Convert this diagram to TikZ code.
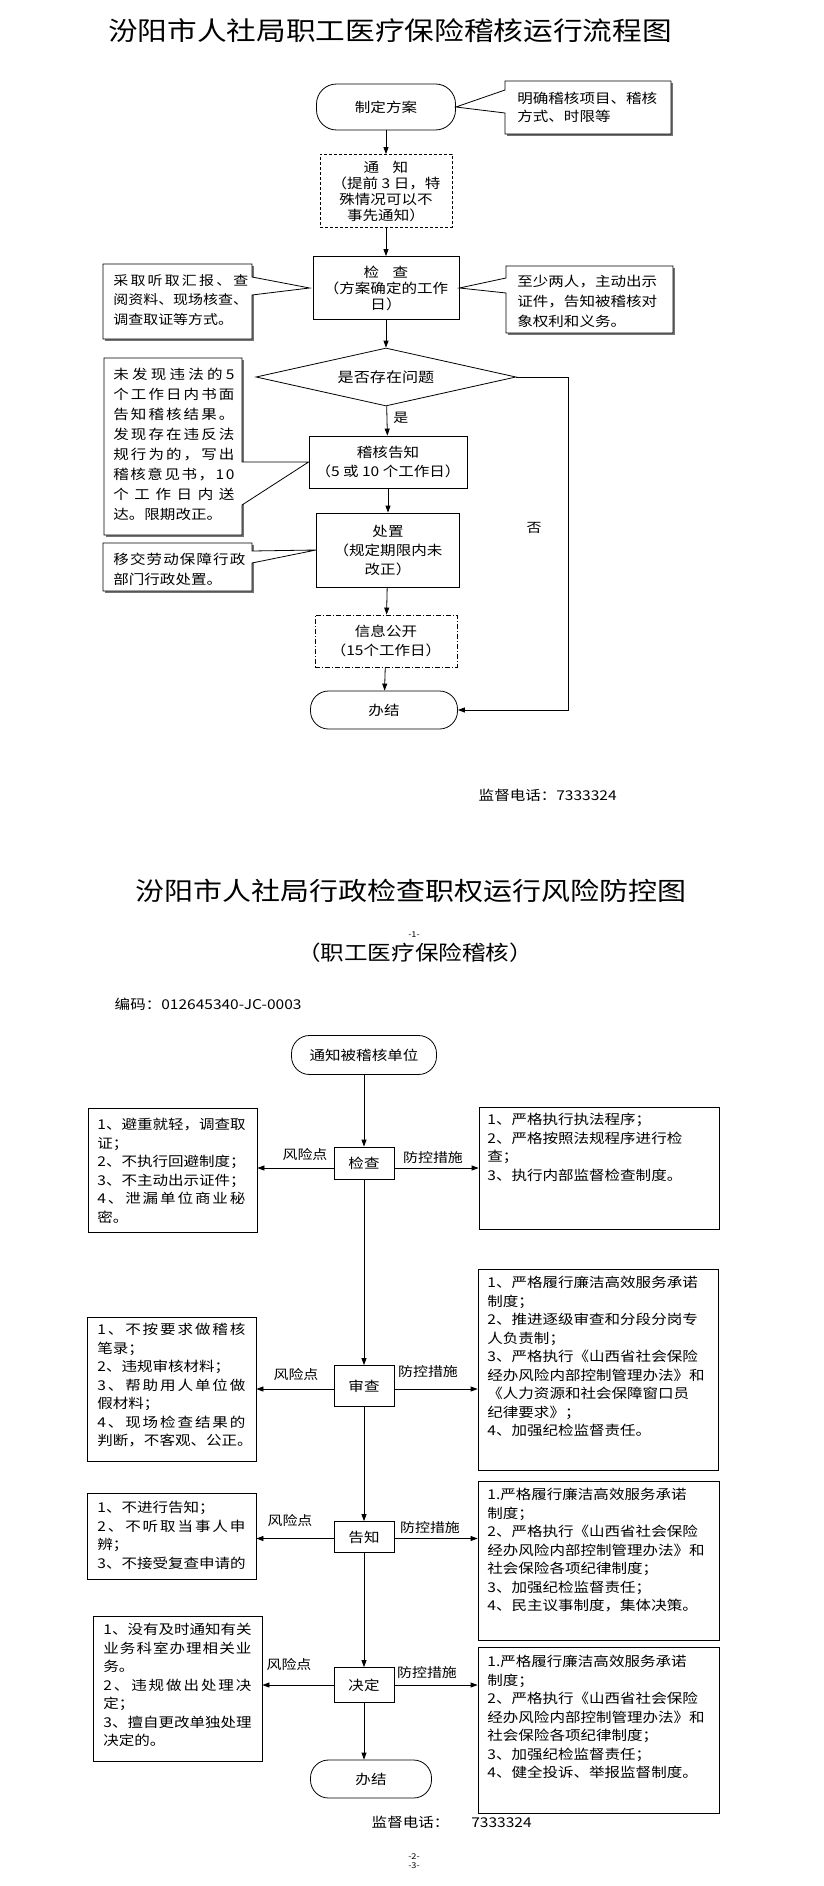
\documentclass[tikz,border=0pt]{standalone}
\usepackage{fontspec}
\setmainfont{Noto Sans CJK SC}[FakeStretch=1.15]
\usetikzlibrary{arrows.meta,calc,shapes.geometric}
\newcommand\fs[2]{\fontsize{#1pt}{#2pt}\selectfont}
\def\sprdaux#1#2{#1\ifx\relax#2\else\hfil\expandafter\sprdaux\expandafter#2\fi}
\newcommand\spreadline[1]{\makebox[\hsize][s]{\sprdaux#1\relax}}
\tikzset{
  every node/.style={font=\fs{13.5}{16}},
  proc/.style={draw, rectangle, align=center, inner sep=0pt},
  term/.style={draw, rectangle, align=center, inner sep=0pt},
  boxt/.style={anchor=north west, inner sep=0pt, align=left, text width=#1},
  lab/.style={font=\fs{13}{15}, inner sep=1pt},
  arr/.style={-{Triangle[length=7pt,width=5pt]}},
  shade/.style={fill=black!55},
  frame/.style={draw, inner sep=0pt},
}
\begin{document}
\begin{tikzpicture}[x=1pt,y=-1pt,line width=0.8pt]
\fill[white] (0,0) rectangle (823,1886);
\useasboundingbox (0,0) rectangle (823,1886);

% ================= Part 1 =================
\node[font=\fs{25.8}{28}] (t1) at (390,31) {汾阳市人社局职工医疗保险稽核运行流程图};

\node[term, minimum width=139pt, minimum height=46pt, rounded corners=20pt] (A) at (386,107) {制定方案};
\node[proc, dash pattern=on 3pt off 2pt, minimum width=132pt, minimum height=73pt] (B) at (386,191) {通\quad 知\\（提前 3 日，特\\殊情况可以不\\事先通知）};
\node[proc, minimum width=146pt, minimum height=63pt] (C) at (386,288) {检\quad 查\\（方案确定的工作\\日）};
\node[diamond, aspect=4.5, draw, minimum width=260pt, minimum height=58pt, inner sep=0pt, font=\fs{14}{16}] (D) at (386,377) {是否存在问题};
\node[proc, minimum width=158pt, minimum height=52pt, font=\fs{13.5}{19}] (E) at (388,462) {稽核告知\\（5 或 10 个工作日）};
\node[proc, minimum width=143pt, minimum height=74pt, font=\fs{13.5}{19}] (F) at (388,550) {处置\\（规定期限内未\\改正）};
\node[proc, dash pattern=on 5pt off 2pt on 1pt off 2pt, minimum width=142pt, minimum height=52pt, font=\fs{13.5}{19}] (G) at (386,641) {信息公开\\（15个工作日）};
\node[term, minimum width=147pt, minimum height=38pt, rounded corners=18pt] (H) at (384,710) {办结};

% callouts part 1
\fill[shade] (507,83) rectangle (673,136);
\filldraw[fill=white] (505,81) -- (671,81) -- (671,134) -- (505,134) -- (505,113) -- (A.east) -- (505,90) -- cycle;
\node[boxt=150pt, font=\fs{13.5}{18}] (CTt) at (517,92) {明确稽核项目、稽核\\方式、时限等};

\fill[shade] (105,266) rectangle (254,341);
\filldraw[fill=white] (103,264) -- (252,264) -- (252,277) -- ([xshift=-3pt]C.west) -- (252,295) -- (252,339) -- (103,339) -- cycle;
\node[boxt=135pt, font=\fs{13}{19.5}] (CLt) at (113,274) {\spreadline{采取听取汇报、查}\\阅资料、现场核查、\\调查取证等方式。};

\fill[shade] (508,268) rectangle (675,335);
\filldraw[fill=white] (506,266) -- (673,266) -- (673,333) -- (506,333) -- (506,293) -- (C.east) -- (506,278) -- cycle;
\node[boxt=148pt, font=\fs{13.5}{20}] (CRt) at (517,275) {至少两人，主动出示\\证件，告知被稽核对\\象权利和义务。};

\fill[shade] (106,360) rectangle (244,537);
\filldraw[fill=white] (104,358) -- (242,358) -- (242,462) -- (E.west) -- (242,505) -- (242,535) -- (104,535) -- cycle;
\node[boxt=121pt, font=\fs{13.5}{20}] (ELt) at (113,368) {\spreadline{未发现违法的5}\\\spreadline{个工作日内书面}\\\spreadline{告知稽核结果。}\\\spreadline{发现存在违反法}\\\spreadline{规行为的，写出}\\\spreadline{稽核意见书，10}\\\spreadline{个工作日内送}\\达。限期改正。};

\fill[shade] (105,545) rectangle (254,593);
\filldraw[fill=white] (103,543) -- (252,543) -- (252,551) -- (F.west) -- (252,563) -- (252,591) -- (103,591) -- cycle;
\node[boxt=132pt, font=\fs{13.5}{20}] (FLt) at (113,553) {\spreadline{移交劳动保障行政}\\部门行政处置。};

% connectors part 1
\draw[arr] (A) -- (B);
\draw[arr] (B) -- (C);
\draw[arr] (C) -- (D);
\draw[arr] (D) -- node[lab, right=5pt, pos=0.4] (yes) {是} (E);
\draw[arr] (E) -- (F);
\draw[arr] (F) -- (G);
\draw[arr] (G) -- (H);
\coordinate (no1) at (568,377);
\draw[arr] (D.east) -- (no1) |- (H.east);
\node[lab] (no) at (534,528) {否};

\node[anchor=west] (tel1) at (475,795) {监督电话：7333324};

% ================= Part 2 =================
\node[font=\fs{25.2}{27}] (t2) at (411,891) {汾阳市人社局行政检查职权运行风险防控图};
\node[font=\fs{8}{9}] (p1) at (414,935) {-1-};
\node[font=\fs{20.5}{22}] (t3) at (415,953) {（职工医疗保险稽核）};
\node[anchor=west] (code) at (111,1004) {编码：012645340-JC-0003};

\node[term, minimum width=145pt, minimum height=39pt, rounded corners=18pt] (N1) at (364,1055) {通知被稽核单位};
\node[proc, minimum width=60pt, minimum height=32pt] (S1) at (364,1163) {检查};
\node[proc, minimum width=60pt, minimum height=41pt] (S2) at (364,1386) {审查};
\node[proc, minimum width=60pt, minimum height=31pt] (S3) at (364,1537) {告知};
\node[proc, minimum width=60pt, minimum height=35pt] (S4) at (364,1685) {决定};
\node[term, minimum width=121pt, minimum height=38pt, rounded corners=18pt] (N2) at (371,1779) {办结};

% boxes part 2
\node[frame, minimum width=169pt, minimum height=124pt] (L1) at (172.5,1170) {};
\node[frame, minimum width=240pt, minimum height=122pt] (R1) at (599,1168) {};
\node[frame, minimum width=169pt, minimum height=144pt] (L2) at (171.5,1389) {};
\node[frame, minimum width=240pt, minimum height=201pt] (R2) at (598,1369.5) {};
\node[frame, minimum width=169pt, minimum height=86pt] (L3) at (171.5,1536) {};
\node[frame, minimum width=241pt, minimum height=159pt] (R3) at (598.5,1560.5) {};
\node[frame, minimum width=169pt, minimum height=145pt] (L4) at (177.5,1688.5) {};
\node[frame, minimum width=241pt, minimum height=166pt] (R4) at (598.5,1730) {};

\node[boxt=148pt, font=\fs{13.5}{18.5}] (L1t) at (97,1118) {\spreadline{1、避重就轻，调查取}\\证；\\2、不执行回避制度；\\3、不主动出示证件；\\\spreadline{4、泄漏单位商业秘}\\密。};
\node[boxt=225pt, font=\fs{13.5}{18.5}] (R1t) at (487,1113) {1、严格执行执法程序；\\2、严格按照法规程序进行检\\查；\\3、执行内部监督检查制度。};
\node[boxt=148pt, font=\fs{13.5}{18.5}] (L2t) at (97,1323) {\spreadline{1、不按要求做稽核}\\笔录；\\2、违规审核材料；\\\spreadline{3、帮助用人单位做}\\假材料；\\\spreadline{4、现场检查结果的}\\判断，不客观、公正。};
\node[boxt=225pt, font=\fs{13.5}{18.5}] (R2t) at (487,1276) {1、严格履行廉洁高效服务承诺\\制度；\\2、推进逐级审查和分段分岗专\\人负责制；\\3、严格执行《山西省社会保险\\经办风险内部控制管理办法》和\\《人力资源和社会保障窗口员\\纪律要求》；\\4、加强纪检监督责任。};
\node[boxt=148pt, font=\fs{13.5}{18.5}] (L3t) at (97,1501) {1、不进行告知；\\\spreadline{2、不听取当事人申}\\辨；\\3、不接受复查申请的};
\node[boxt=225pt, font=\fs{13.5}{18.5}] (R3t) at (487,1488) {1.严格履行廉洁高效服务承诺\\制度；\\2、严格执行《山西省社会保险\\经办风险内部控制管理办法》和\\社会保险各项纪律制度；\\3、加强纪检监督责任；\\4、民主议事制度，集体决策。};
\node[boxt=148pt, font=\fs{13.5}{18.5}] (L4t) at (103,1623) {\spreadline{1、没有及时通知有关}\\\spreadline{业务科室办理相关业}\\务。\\\spreadline{2、违规做出处理决}\\定；\\\spreadline{3、擅自更改单独处理}\\决定的。};
\node[boxt=225pt, font=\fs{13.5}{18.5}] (R4t) at (487,1655) {1.严格履行廉洁高效服务承诺\\制度；\\2、严格执行《山西省社会保险\\经办风险内部控制管理办法》和\\社会保险各项纪律制度；\\3、加强纪检监督责任；\\4、健全投诉、举报监督制度。};

% connectors part 2
\draw[arr] (N1) -- (S1);
\draw[arr] (S1) -- (S2);
\draw[arr] (S2) -- (S3);
\draw[arr] (S3) -- (S4);
\draw[arr] (S4.south) -- (S4.south |- N2.north);

\draw[arr] ([yshift=-5pt]S1.west) -- ([yshift=-5pt]S1.west -| L1.east);
\draw[arr] ([yshift=-5pt]S1.east) -- ([yshift=-5pt]S1.east -| R1.west);
\draw[arr] ([yshift=-3pt]S2.west) -- ([yshift=-3pt]S2.west -| L2.east);
\draw[arr] ([yshift=-3pt]S2.east) -- ([yshift=-3pt]S2.east -| R2.west);
\draw[arr] ([yshift=-1.5pt]S3.west) -- ([yshift=-1.5pt]S3.west -| L3.east);
\draw[arr] ([yshift=-1.5pt]S3.east) -- ([yshift=-1.5pt]S3.east -| R3.west);
\draw[arr] (S4.west) -- (S4.west -| L4.east);
\draw[arr] (S4.east) -- (S4.east -| R4.west);

\node[lab] (rk1) at (305,1155) {风险点};
\node[lab] (ms1) at (433,1158) {防控措施};
\node[lab] (rk2) at (296,1375) {风险点};
\node[lab] (ms2) at (428,1372) {防控措施};
\node[lab] (rk3) at (290,1521) {风险点};
\node[lab] (ms3) at (430,1528) {防控措施};
\node[lab] (rk4) at (289,1665) {风险点};
\node[lab] (ms4) at (427,1673) {防控措施};

\node[anchor=west] (tel2) at (368,1822) {监督电话：\hspace{22pt}7333324};
\node[font=\fs{8}{9}] (p2) at (414,1857) {-2-};
\node[font=\fs{8}{9}] (p3) at (414,1866) {-3-};
\end{tikzpicture}
\end{document}
